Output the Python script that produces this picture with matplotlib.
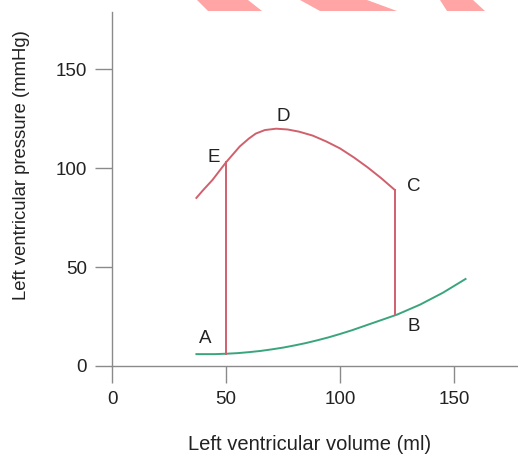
import matplotlib
matplotlib.use("Agg")
import matplotlib.pyplot as plt
from matplotlib.patches import Polygon

# Data
red_vol = [37, 40, 44, 48, 50, 53, 56, 60, 63, 67, 72, 77, 82, 88, 94, 100, 106, 112, 118, 124]
red_p = [85, 89, 94, 100, 103, 107, 111, 115, 117.5, 119.3, 120, 119.6, 118.5, 116.5, 113.5,
         110, 105.5, 100.5, 95, 89]
green_vol = [37, 45, 50, 55, 60, 65, 70, 75, 80, 85, 90, 95, 100, 105, 110, 115, 120, 125,
             130, 135, 140, 145, 150, 155]
green_p = [6, 6, 6.2, 6.5, 7, 7.6, 8.4, 9.3, 10.4, 11.6, 13, 14.5, 16.2, 18, 20, 22, 24, 26,
           28.5, 31, 34, 37, 40.5, 44]
ivc_vol = [124, 124]
ivc_p = [26, 89]
ivr_vol = [50, 50]
ivr_p = [6, 103]
labels = ["A", "B", "C", "D", "E"]
label_x = [40.7, 132.5, 132.5, 75, 44.6]
label_y = [14, 20, 91, 126, 105.6]
xticks = [0, 50, 100, 150]
yticks = [0, 50, 100, 150]

RED = "#d0606c"
GREEN = "#3aa57c"
TXT = "#222222"
AX = "#8a8a8a"

plt.rcParams["font.family"] = ["Liberation Sans", "DejaVu Sans"]

fig = plt.figure(figsize=(5.18, 4.54), dpi=100)
ax = fig.add_axes([112/518, 88/454, (518-112)/518, (366-12)/454])

ax.plot(red_vol, red_p, color=RED, lw=1.4, solid_joinstyle="round")
ax.plot(green_vol, green_p, color=GREEN, lw=1.4, solid_joinstyle="round")
ax.plot(ivc_vol, ivc_p, color=RED, lw=1.4)
ax.plot(ivr_vol, ivr_p, color=RED, lw=1.4)

for t, x, y in zip(labels, label_x, label_y):
    ax.text(x, y, t, fontsize=13.5, color=TXT, ha="center", va="center")

ax.set_xlim(0, 178)
ax.set_ylim(0, 179)
ax.set_xticks(xticks)
ax.set_yticks(yticks)
ax.tick_params(axis="both", direction="out", length=12, width=1, color=AX,
               labelsize=13.5, labelcolor=TXT, pad=6)
for s in ["top", "right"]:
    ax.spines[s].set_visible(False)
for s in ["left", "bottom"]:
    ax.spines[s].set_color(AX)
    ax.spines[s].set_linewidth(1)

ax.set_xlabel("Left ventricular volume (ml)", fontsize=14.5, color=TXT)
ax.xaxis.set_label_coords((310 - 112) / (518 - 112), (366 - 444) / (366 - 12))
ax.set_ylabel("Left ventricular pressure (mmHg)", fontsize=13.3, color=TXT)
ax.yaxis.set_label_coords((22 - 112) / (518 - 112), (366 - 165) / (366 - 12))
ax.xaxis.label.set_verticalalignment("center")
ax.yaxis.label.set_verticalalignment("center")

# pink decorative shapes at the top edge
H = 454.0
W = 518.0
shapes = [
    [(197, 0), (248, 0), (262, 11), (208, 11)],
    [(300, 0), (367, 0), (397, 11), (320, 11)],
    [(440, 0), (473, 0), (485, 11), (447, 11)],
]
for sh in shapes:
    pts = [(x / W, 1 - y / H) for x, y in sh]
    fig.patches.append(Polygon(pts, closed=True, transform=fig.transFigure,
                               facecolor="#ffa5a5", edgecolor="none"))

fig.savefig("out.png", dpi=100)
